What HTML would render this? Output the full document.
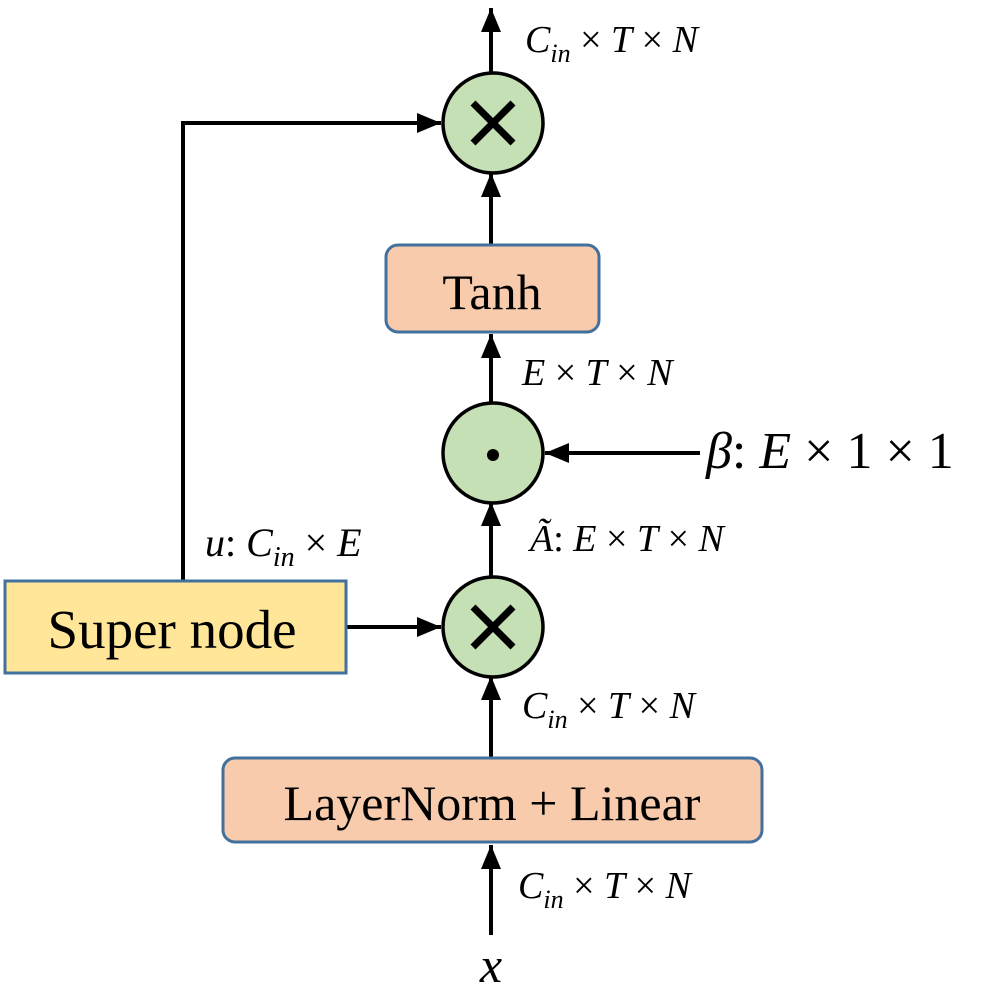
<!DOCTYPE html>
<html><head><style>
html,body{margin:0;padding:0;background:#fff;width:996px;height:989px;overflow:hidden}
</style></head><body>
<svg width="996" height="989" viewBox="0 0 996 989" xmlns="http://www.w3.org/2000/svg">
<defs>
<marker id="b" markerWidth="26" markerHeight="24" refX="24" refY="10" orient="auto" markerUnits="userSpaceOnUse">
<path d="M0,0 L24,10 L0,20 z" fill="#000"/></marker>
</defs>
<g stroke="#000" stroke-width="4" fill="none">
<line x1="491" y1="75" x2="491" y2="8" marker-end="url(#b)"/>
<line x1="491" y1="244" x2="491" y2="173" marker-end="url(#b)"/>
<line x1="491" y1="405" x2="491" y2="334" marker-end="url(#b)"/>
<line x1="491" y1="580" x2="491" y2="502" marker-end="url(#b)"/>
<line x1="491" y1="757" x2="491" y2="676" marker-end="url(#b)"/>
<line x1="491" y1="935" x2="491" y2="845" marker-end="url(#b)"/>
<line x1="700" y1="453" x2="545" y2="453" marker-end="url(#b)"/>
<line x1="347" y1="627" x2="441" y2="627" marker-end="url(#b)"/>
<polyline points="183,580 183,123 441,123" marker-end="url(#b)"/>
</g>
<g fill="#c5e0b4" stroke="#000" stroke-width="3.5">
<circle cx="493" cy="123" r="50"/>
<circle cx="493" cy="453" r="50"/>
<circle cx="493" cy="627" r="50"/>
</g>
<g stroke="#000" stroke-width="7">
<line x1="473" y1="103" x2="513" y2="143"/><line x1="513" y1="103" x2="473" y2="143"/>
<line x1="473" y1="607" x2="513" y2="647"/><line x1="513" y1="607" x2="473" y2="647"/>
</g>
<circle cx="493" cy="455" r="6" fill="#000"/>
<rect x="386" y="245" width="213" height="87" rx="12" fill="#f8cbad" stroke="#41719c" stroke-width="3"/>
<rect x="5" y="581" width="341" height="92" fill="#ffe699" stroke="#41719c" stroke-width="3"/>
<rect x="223" y="758" width="539" height="84" rx="12" fill="#f8cbad" stroke="#41719c" stroke-width="3"/>
<g font-family="Liberation Serif, serif" fill="#000">
<text x="492" y="309" font-size="50" text-anchor="middle">Tanh</text>
<text x="172" y="648" font-size="55" text-anchor="middle">Super node</text>
<text x="492" y="820" font-size="50" text-anchor="middle">LayerNorm + Linear</text>
<text x="491" y="982" font-size="50" font-style="italic" text-anchor="middle">x</text>
</g>
<g font-family="Liberation Serif, serif" font-size="38" fill="#000" font-style="italic">
<text x="525" y="52">C<tspan font-size="26" dy="10">in</tspan><tspan dy="-10" font-style="normal">  ×  </tspan>T<tspan font-style="normal">  ×  </tspan>N</text>
<text x="522" y="385">E<tspan font-style="normal">  ×  </tspan>T<tspan font-style="normal">  ×  </tspan>N</text>
<text x="530" y="551">Ã<tspan font-style="normal">: </tspan>E<tspan font-style="normal">  ×  </tspan>T<tspan font-style="normal">  ×  </tspan>N</text>
<text x="205" y="556" font-size="40">u<tspan font-style="normal">:  </tspan>C<tspan font-size="28" dy="10">in</tspan><tspan dy="-10" font-style="normal">  ×  </tspan>E</text>
<text x="522" y="718">C<tspan font-size="26" dy="10">in</tspan><tspan dy="-10" font-style="normal">  ×  </tspan>T<tspan font-style="normal">  ×  </tspan>N</text>
<text x="518" y="898">C<tspan font-size="26" dy="10">in</tspan><tspan dy="-10" font-style="normal">  ×  </tspan>T<tspan font-style="normal">  ×  </tspan>N</text>
<text x="706" y="468" font-size="52">β<tspan font-style="normal">: </tspan>E<tspan font-style="normal"> × 1 × 1</tspan></text>
</g>
</svg>
</body></html>
